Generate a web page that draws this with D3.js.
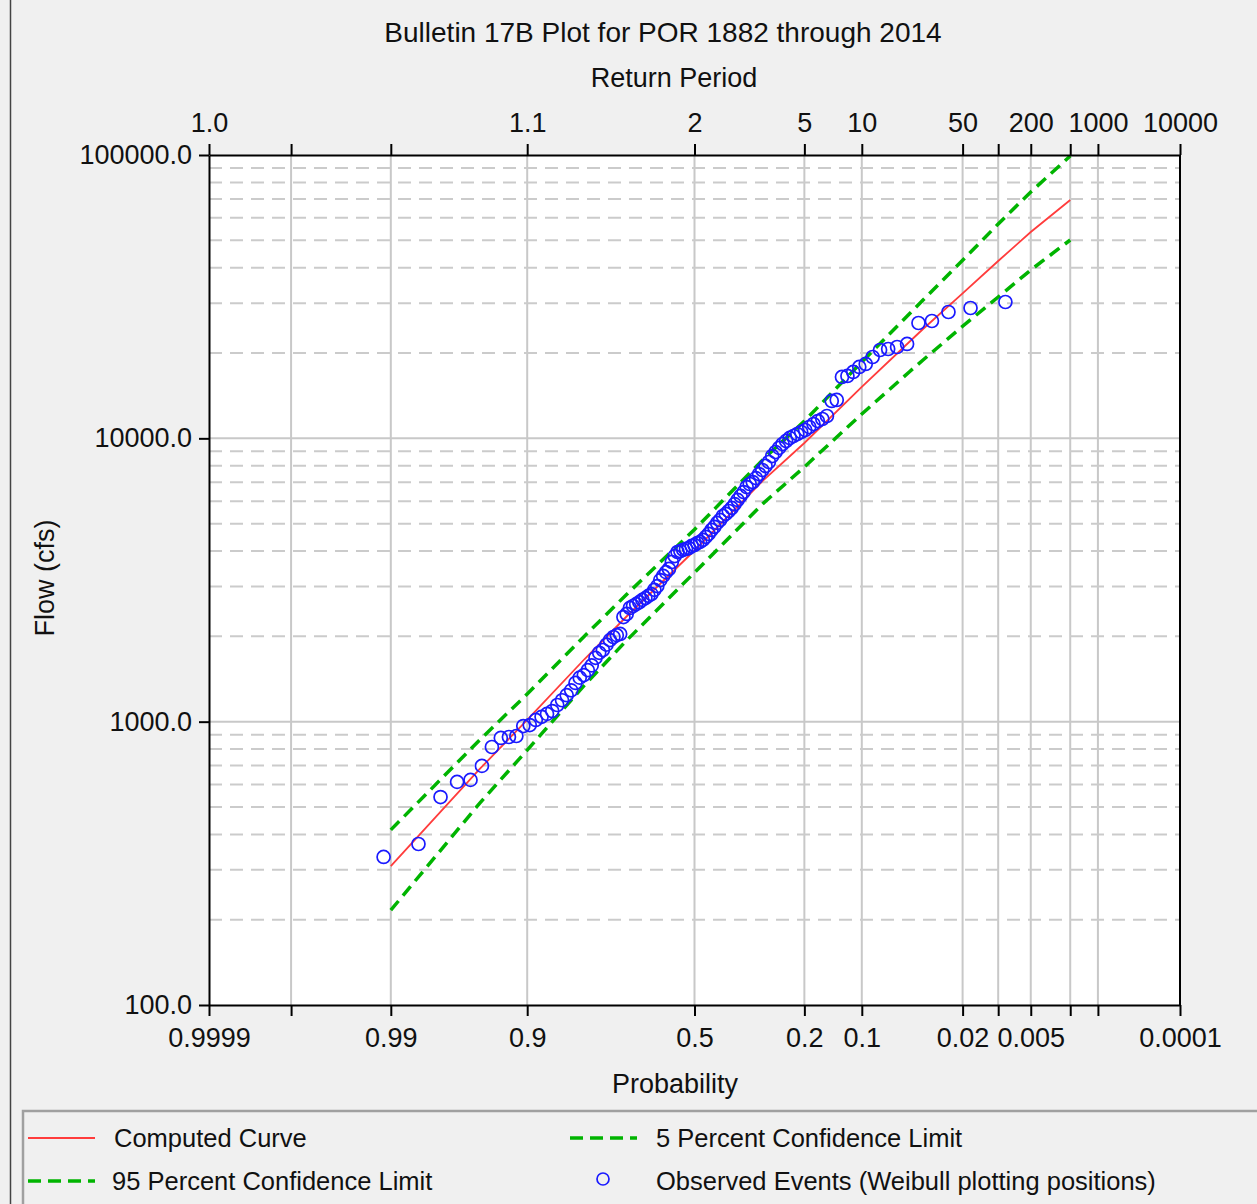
<!DOCTYPE html>
<html lang="en">
<head>
<meta charset="UTF-8">
<title>Bulletin 17B Plot</title>
<script src="https://d3js.org/d3.v7.min.js"></script>
<style>
  body { margin: 0; background: #f0f0f0; }
  svg text { font-family: "Liberation Sans", Arial, sans-serif; fill: #111; }
</style>
</head>
<body>
<svg id="chart" width="1257" height="1204"></svg>
<script>
// exceedance probabilities at which the fitted curves are given
var curveProb = [0.99, 0.95, 0.9, 0.8, 0.7, 0.5, 0.3, 0.2, 0.1, 0.05, 0.04, 0.02, 0.01, 0.005, 0.002];
var computedCurve = [309, 681, 1014, 1664, 2341, 4019, 7093, 9630, 15180, 21880, 24310, 32500, 42250, 53490, 69380];
var conf5 = [415, 862, 1252, 2007, 2800, 4768, 8414, 11510, 18600, 27470, 30780, 42490, 57080, 74040, 99200];
var conf95 = [216, 516, 794, 1347, 1926, 3361, 5885, 7923, 12190, 17150, 18900, 24860, 31540, 39280, 50120];

// observed annual peaks, ranked largest first (Weibull plotting positions)
var obsFlow = [
  30280, 28840, 27920, 25950, 25530, 21530, 21010, 20670, 20500, 19370,
  18300, 17860, 17150, 16600, 16470, 13660, 13550, 11990, 11700, 11510,
  11230, 10960, 10700, 10530, 10360, 10190, 10030, 9790, 9550, 9250,
  8950, 8660, 8250, 7990, 7730, 7480, 7240, 7010, 6900, 6730,
  6460, 6260, 6060, 5860, 5680, 5540, 5410, 5320, 5150, 5030,
  4870, 4750, 4600, 4490, 4380, 4310, 4270, 4200,
  4170, 4100, 4070, 4040, 4000, 3970, 3840, 3660, 3460, 3370,
  3270, 3160, 3010, 2920, 2820, 2780, 2730, 2690, 2640, 2600,
  2560, 2520, 2400, 2340, 2040, 2020, 1990, 1940, 1870, 1790,
  1750, 1680, 1580, 1520, 1460, 1430, 1370, 1290, 1240, 1190,
  1145, 1090, 1065, 1040, 1014, 973, 965, 890, 883, 876,
  814, 698, 623, 613, 542, 370, 333
];

// axis ticks
var probTicks = [0.9999, 0.999, 0.99, 0.9, 0.5, 0.2, 0.1, 0.02, 0.01, 0.005, 0.002, 0.001, 0.0001];
var probLabels = {0.9999: "0.9999", 0.99: "0.99", 0.9: "0.9", 0.5: "0.5", 0.2: "0.2", 0.1: "0.1",
                  0.02: "0.02", 0.005: "0.005", 0.0001: "0.0001"};
var returnLabels = {0.9999: "1.0", 0.9: "1.1", 0.5: "2", 0.2: "5", 0.1: "10", 0.02: "50",
                    0.005: "200", 0.001: "1000", 0.0001: "10000"};
var flowTicks = [100, 1000, 10000, 100000];
var flowMajorGrid = [1000, 10000];
var flowMinorGrid = [200, 300, 400, 500, 600, 700, 800, 900,
                     2000, 3000, 4000, 5000, 6000, 7000, 8000, 9000,
                     20000, 30000, 40000, 50000, 60000, 70000, 80000, 90000];

// inverse standard normal (Acklam)
function normInv(p) {
  var a = [-3.969683028665376e+01, 2.209460984245205e+02, -2.759285104469687e+02, 1.383577518672690e+02, -3.066479806614716e+01, 2.506628277459239e+00];
  var b = [-5.447609879822406e+01, 1.615858368580409e+02, -1.556989798598866e+02, 6.680131188771972e+01, -1.328068155288572e+01];
  var c = [-7.784894002430293e-03, -3.223964580411365e-01, -2.400758277161838e+00, -2.549732539343734e+00, 4.374664141464968e+00, 2.938163982698783e+00];
  var d = [7.784695709041462e-03, 3.224671290700398e-01, 2.445134137142996e+00, 3.754408661907416e+00];
  var q, r;
  if (p < 0.02425) {
    q = Math.sqrt(-2 * Math.log(p));
    return (((((c[0]*q+c[1])*q+c[2])*q+c[3])*q+c[4])*q+c[5]) / ((((d[0]*q+d[1])*q+d[2])*q+d[3])*q+1);
  }
  if (p > 1 - 0.02425) {
    q = Math.sqrt(-2 * Math.log(1 - p));
    return -(((((c[0]*q+c[1])*q+c[2])*q+c[3])*q+c[4])*q+c[5]) / ((((d[0]*q+d[1])*q+d[2])*q+d[3])*q+1);
  }
  q = p - 0.5; r = q * q;
  return (((((a[0]*r+a[1])*r+a[2])*r+a[3])*r+a[4])*r+a[5])*q / (((((b[0]*r+b[1])*r+b[2])*r+b[3])*r+b[4])*r+1);
}

var plotL = 209, plotR = 1180, plotT = 155, plotB = 1005;
var svg = d3.select("#chart");

var zScale = d3.scaleLinear().domain([normInv(0.0001), normInv(0.9999)]).range([plotL, plotR]);
function px(p) { return zScale(normInv(1 - p)); }
var y = d3.scaleLog().domain([100, 100000]).range([plotB, plotT]);

// outer frame
svg.append("rect").attr("width", 1257).attr("height", 1204).attr("fill", "#f0f0f0");
svg.append("line").attr("x1", 10.5).attr("x2", 10.5).attr("y1", 0).attr("y2", 1204)
  .attr("stroke", "#444").attr("stroke-width", 1.5);

// plot background
svg.append("rect").attr("x", plotL).attr("y", plotT).attr("width", plotR - plotL).attr("height", plotB - plotT)
  .attr("fill", "#fff");

// grid
var grid = svg.append("g");
grid.selectAll(".vg").data(probTicks.slice(1, -1)).enter().append("line")
  .attr("x1", px).attr("x2", px).attr("y1", plotT).attr("y2", plotB)
  .attr("stroke", "#c8c8c8").attr("stroke-width", 2);
grid.selectAll(".hmin").data(flowMinorGrid).enter().append("line")
  .attr("x1", plotL).attr("x2", plotR).attr("y1", y).attr("y2", y)
  .attr("stroke", "#cbcbcb").attr("stroke-width", 2).attr("stroke-dasharray", "13,8");
grid.selectAll(".hmaj").data(flowMajorGrid).enter().append("line")
  .attr("x1", plotL).attr("x2", plotR).attr("y1", y).attr("y2", y)
  .attr("stroke", "#c8c8c8").attr("stroke-width", 2);

// curves
var line = d3.line().x(function(d) { return px(d[0]); }).y(function(d) { return y(d[1]); });
function pairs(vals) { return curveProb.map(function(p, i) { return [p, vals[i]]; }); }

svg.append("path").datum(pairs(conf5)).attr("d", line).attr("fill", "none")
  .attr("stroke", "#00b400").attr("stroke-width", 3.5).attr("stroke-dasharray", "12,7");
svg.append("path").datum(pairs(conf95)).attr("d", line).attr("fill", "none")
  .attr("stroke", "#00b400").attr("stroke-width", 3.5).attr("stroke-dasharray", "12,7");
svg.append("path").datum(pairs(computedCurve)).attr("d", line).attr("fill", "none")
  .attr("stroke", "#ff3c3c").attr("stroke-width", 1.8);

// observed events
var n = obsFlow.length;
svg.append("g").selectAll("circle").data(obsFlow).enter().append("circle")
  .attr("cx", function(d, i) { return px((i + 1) / (n + 1)); })
  .attr("cy", function(d) { return y(d); })
  .attr("r", 6.5).attr("fill", "none").attr("stroke", "#1a1aff").attr("stroke-width", 1.7);

// axes
var pos = d3.scaleLinear().domain([plotL, plotR]).range([plotL, plotR]);
var bottomAxis = d3.axisBottom(pos)
  .tickValues(probTicks.map(px)).tickSize(11).tickSizeOuter(0).tickPadding(12)
  .tickFormat(function(v, i) { return probLabels[probTicks[i]] || ""; });
var topAxis = d3.axisTop(pos)
  .tickValues(probTicks.map(px)).tickSize(11).tickSizeOuter(0).tickPadding(12)
  .tickFormat(function(v, i) { return returnLabels[probTicks[i]] || ""; });
var leftAxis = d3.axisLeft(y).tickValues(flowTicks).tickSize(10).tickSizeOuter(0).tickPadding(7)
  .tickFormat(d3.format(".1f"));

function styleAxis(g) {
  g.select(".domain").attr("stroke", "#000").attr("stroke-width", 2);
  g.selectAll(".tick line").attr("stroke", "#000").attr("stroke-width", 2);
  g.selectAll(".tick text").attr("font-size", 27).attr("font-family", "Liberation Sans, Arial, sans-serif").attr("fill", "#111");
}
svg.append("g").attr("transform", "translate(0," + plotB + ")").call(bottomAxis).call(styleAxis);
svg.append("g").attr("transform", "translate(0," + plotT + ")").call(topAxis).call(styleAxis);
svg.append("g").attr("transform", "translate(" + plotL + ",0)").call(leftAxis).call(styleAxis);
svg.append("line").attr("x1", plotR).attr("x2", plotR).attr("y1", plotT).attr("y2", plotB)
  .attr("stroke", "#000").attr("stroke-width", 2);

// titles
svg.append("text").attr("x", 663).attr("y", 42).attr("text-anchor", "middle").attr("font-size", 28)
  .text("Bulletin 17B Plot for POR 1882 through 2014");
svg.append("text").attr("x", 674).attr("y", 87).attr("text-anchor", "middle").attr("font-size", 27)
  .text("Return Period");
svg.append("text").attr("x", 675).attr("y", 1093).attr("text-anchor", "middle").attr("font-size", 27)
  .text("Probability");
svg.append("text").attr("transform", "translate(54,578) rotate(-90)").attr("text-anchor", "middle")
  .attr("font-size", 27).text("Flow (cfs)");

// legend
var legend = svg.append("g");
legend.append("rect").attr("x", 23).attr("y", 1111).attr("width", 1250).attr("height", 110)
  .attr("fill", "#f0f0f0").attr("stroke", "#a0a0a0").attr("stroke-width", 2.5);
legend.append("line").attr("x1", 28).attr("x2", 95).attr("y1", 1138).attr("y2", 1138)
  .attr("stroke", "#ff3c3c").attr("stroke-width", 2);
legend.append("text").attr("x", 114).attr("y", 1147).attr("font-size", 25.5).text("Computed Curve");
legend.append("line").attr("x1", 570).attr("x2", 637).attr("y1", 1138).attr("y2", 1138)
  .attr("stroke", "#00b400").attr("stroke-width", 3.5).attr("stroke-dasharray", "13,7");
legend.append("text").attr("x", 656).attr("y", 1147).attr("font-size", 25.5).text("5 Percent Confidence Limit");
legend.append("line").attr("x1", 28).attr("x2", 95).attr("y1", 1181).attr("y2", 1181)
  .attr("stroke", "#00b400").attr("stroke-width", 3.5).attr("stroke-dasharray", "13,7");
legend.append("text").attr("x", 112).attr("y", 1190).attr("font-size", 25.5).text("95 Percent Confidence Limit");
legend.append("circle").attr("cx", 603).attr("cy", 1179).attr("r", 6).attr("fill", "none")
  .attr("stroke", "#1a1aff").attr("stroke-width", 1.7);
legend.append("text").attr("x", 656).attr("y", 1190).attr("font-size", 25.5)
  .text("Observed Events (Weibull plotting positions)");
</script>
</body>
</html>
